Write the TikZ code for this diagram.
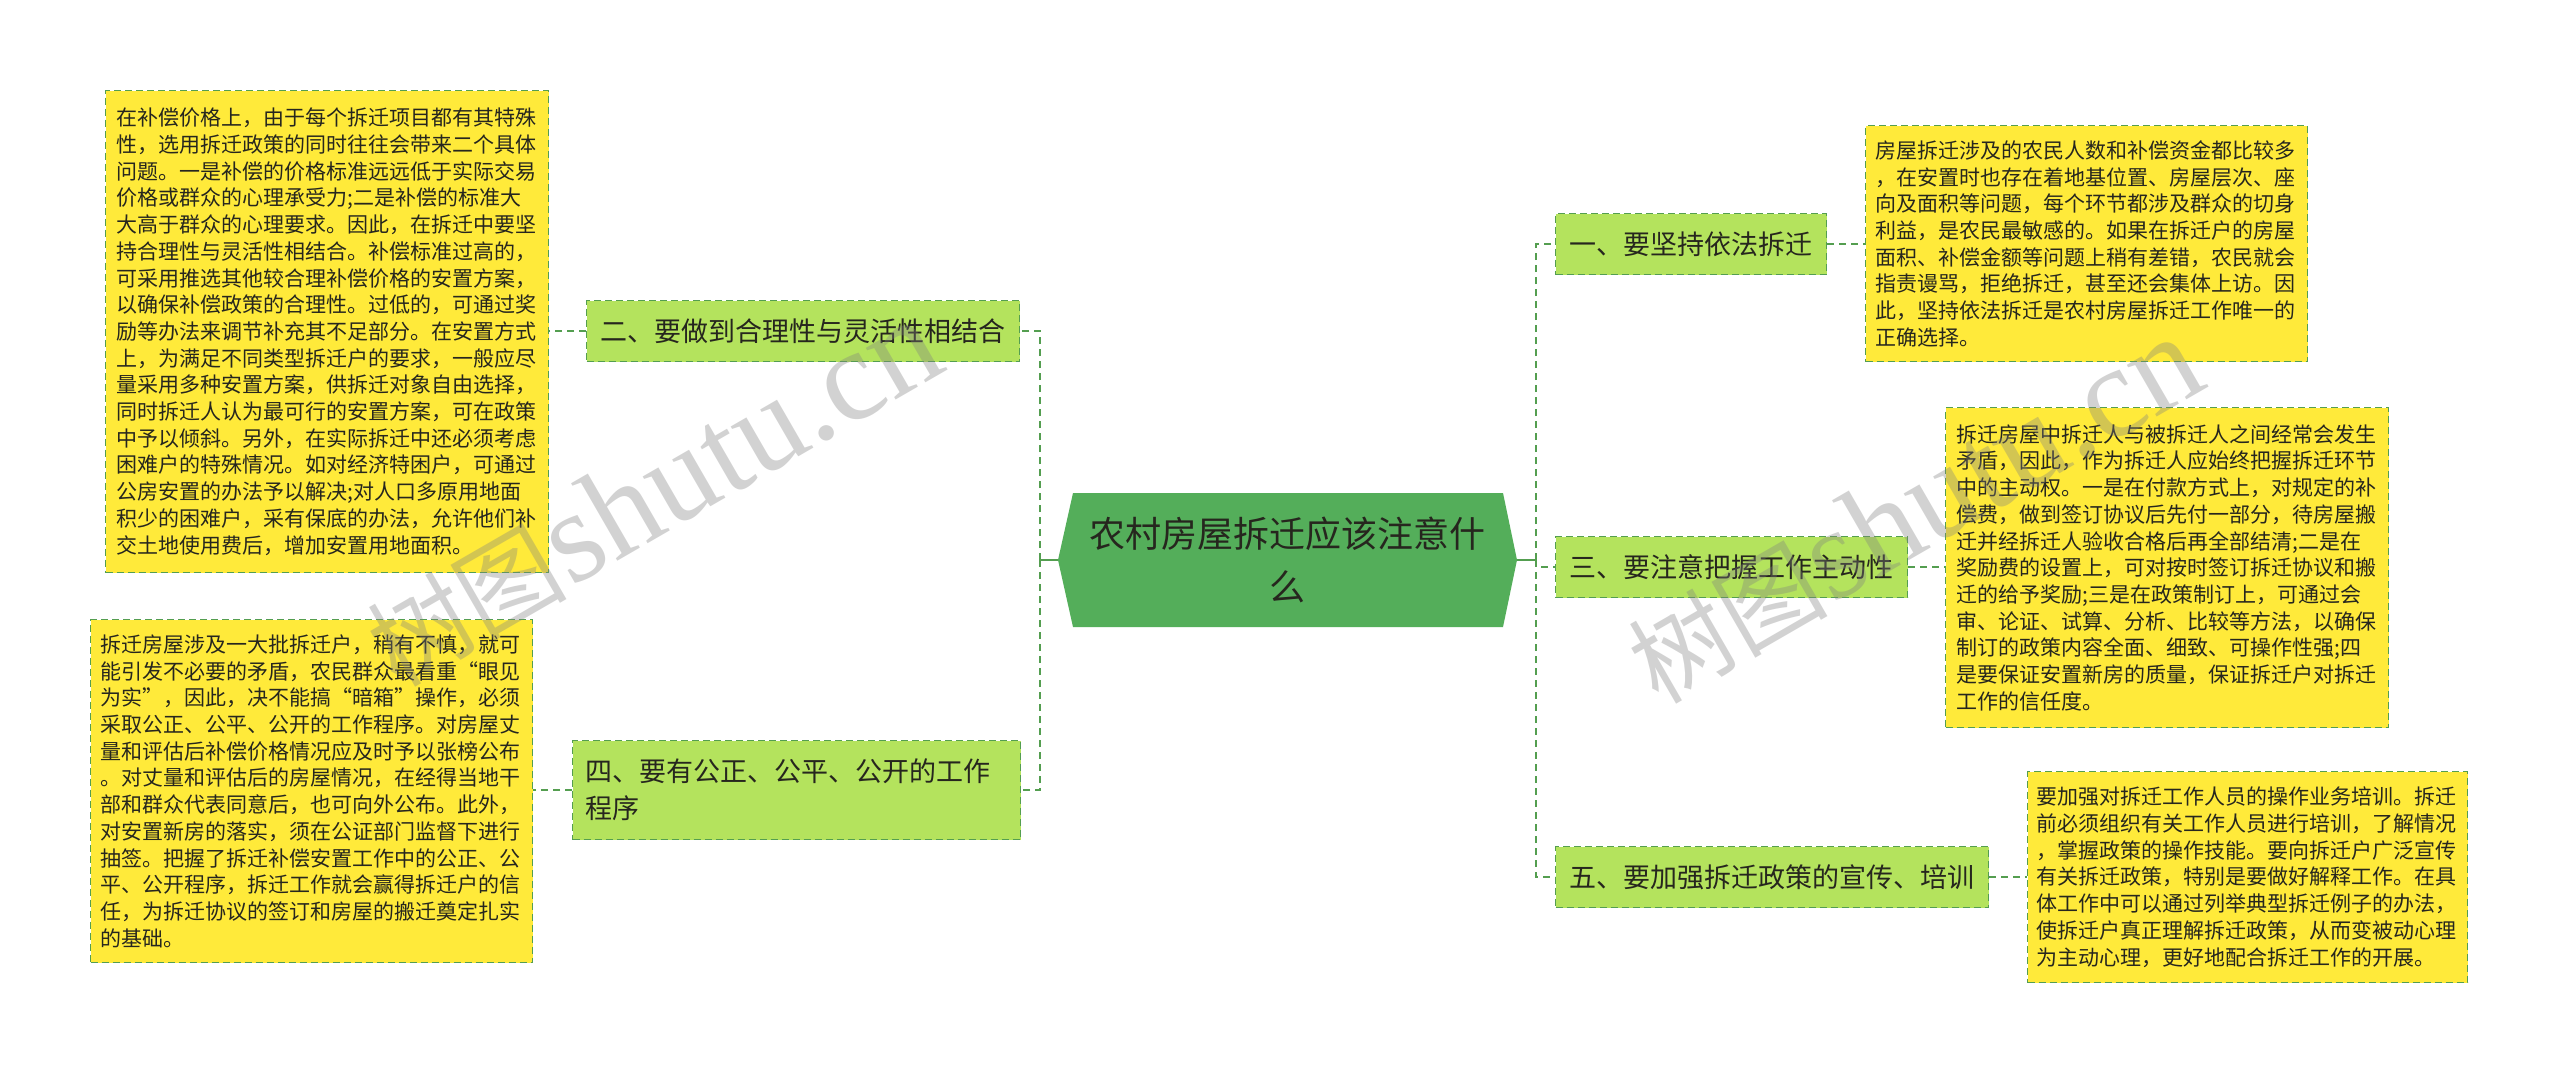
\documentclass[tikz,border=0pt]{standalone}
\usepackage{fontspec}
\newfontfamily\cjk{Noto Sans CJK SC}
\newfontfamily\wmserif{Liberation Serif}
\usetikzlibrary{calc}
\definecolor{leafyellow}{RGB}{255,234,58}
\definecolor{branchgreen}{RGB}{180,227,93}
\definecolor{centergreen}{RGB}{84,174,90}
\definecolor{linegreen}{RGB}{84,158,80}
\definecolor{txt}{RGB}{38,38,30}
\begin{document}
\begin{tikzpicture}[x=1pt,y=-1pt,
  leaf/.style={draw=linegreen, dash pattern=on 7pt off 4pt, line width=1.4pt,
    fill=leafyellow, text=txt, font=\cjk\fontsize{21}{26.7}\selectfont,
    align=left, text width=422pt, inner xsep=0pt, inner ysep=0pt, anchor=north west},
  branch/.style={draw=linegreen, dash pattern=on 7pt off 4pt, line width=1.4pt,
    fill=branchgreen, text=txt, font=\cjk\fontsize{27}{37}\selectfont,
    inner xsep=14pt, inner ysep=0pt, minimum height=61pt, anchor=west},
  conn/.style={draw=linegreen, dash pattern=on 7pt off 5pt, line width=2pt},
  stub/.style={draw=linegreen, line width=2pt},
  wm/.style={text=gray, opacity=0.35, inner sep=0pt}
]
\fill[white] (0,0) rectangle (2560,1073);
\useasboundingbox (0,0) rectangle (2560,1073);

% central node
\fill[centergreen] (1058,560) -- (1073,493) -- (1503,493) -- (1517,560) -- (1503,627) -- (1073,627) -- cycle;
\node[text=txt, font=\cjk\fontsize{36}{53}\selectfont, align=center, minimum width=459pt, minimum height=134pt, inner sep=0pt] (c) at (1287.5,560) {农村房屋拆迁应该注意什\\么};

% branch nodes
\node[branch] (b2) at (586,331) {二、要做到合理性与灵活性相结合};
\node[branch, align=left, text width=422pt, inner xsep=13pt, minimum height=99pt] (b4) at (572,790) {四、要有公正、公平、公开的工作\\程序};
\node[branch] (b1) at (1555,244) {一、要坚持依法拆迁};
\node[branch] (b3) at (1555,567) {三、要注意把握工作主动性};
\node[branch] (b5) at (1555,877) {五、要加强拆迁政策的宣传、培训};

% leaf nodes
\node[leaf, minimum width=443pt, minimum height=482pt] (l2) at (105,90) {在补偿价格上，由于每个拆迁项目都有其特殊\\性，选用拆迁政策的同时往往会带来二个具体\\问题。一是补偿的价格标准远远低于实际交易\\价格或群众的心理承受力;二是补偿的标准大\\大高于群众的心理要求。因此，在拆迁中要坚\\持合理性与灵活性相结合。补偿标准过高的，\\可采用推选其他较合理补偿价格的安置方案，\\以确保补偿政策的合理性。过低的，可通过奖\\励等办法来调节补充其不足部分。在安置方式\\上，为满足不同类型拆迁户的要求，一般应尽\\量采用多种安置方案，供拆迁对象自由选择，\\同时拆迁人认为最可行的安置方案，可在政策\\中予以倾斜。另外，在实际拆迁中还必须考虑\\困难户的特殊情况。如对经济特困户，可通过\\公房安置的办法予以解决;对人口多原用地面\\积少的困难户，采有保底的办法，允许他们补\\交土地使用费后，增加安置用地面积。};
\node[leaf, minimum width=442pt, minimum height=343pt] (l4) at (90,619) {拆迁房屋涉及一大批拆迁户，稍有不慎，就可\\能引发不必要的矛盾，农民群众最看重“眼见\\为实”，因此，决不能搞“暗箱”操作，必须\\采取公正、公平、公开的工作程序。对房屋丈\\量和评估后补偿价格情况应及时予以张榜公布\\。对丈量和评估后的房屋情况，在经得当地干\\部和群众代表同意后，也可向外公布。此外，\\对安置新房的落实，须在公证部门监督下进行\\抽签。把握了拆迁补偿安置工作中的公正、公\\平、公开程序，拆迁工作就会赢得拆迁户的信\\任，为拆迁协议的签订和房屋的搬迁奠定扎实\\的基础。};
\node[leaf, minimum width=442pt, minimum height=236pt] (l1) at (1865,125) {房屋拆迁涉及的农民人数和补偿资金都比较多\\，在安置时也存在着地基位置、房屋层次、座\\向及面积等问题，每个环节都涉及群众的切身\\利益，是农民最敏感的。如果在拆迁户的房屋\\面积、补偿金额等问题上稍有差错，农民就会\\指责谩骂，拒绝拆迁，甚至还会集体上访。因\\此，坚持依法拆迁是农村房屋拆迁工作唯一的\\正确选择。};
\node[leaf, minimum width=443pt, minimum height=320pt] (l3) at (1945,407) {拆迁房屋中拆迁人与被拆迁人之间经常会发生\\矛盾，因此，作为拆迁人应始终把握拆迁环节\\中的主动权。一是在付款方式上，对规定的补\\偿费，做到签订协议后先付一部分，待房屋搬\\迁并经拆迁人验收合格后再全部结清;二是在\\奖励费的设置上，可对按时签订拆迁协议和搬\\迁的给予奖励;三是在政策制订上，可通过会\\审、论证、试算、分析、比较等方法，以确保\\制订的政策内容全面、细致、可操作性强;四\\是要保证安置新房的质量，保证拆迁户对拆迁\\工作的信任度。};
\node[leaf, minimum width=440pt, minimum height=211pt] (l5) at (2027,771) {要加强对拆迁工作人员的操作业务培训。拆迁\\前必须组织有关工作人员进行培训，了解情况\\，掌握政策的操作技能。要向拆迁户广泛宣传\\有关拆迁政策，特别是要做好解释工作。在具\\体工作中可以通过列举典型拆迁例子的办法，\\使拆迁户真正理解拆迁政策，从而变被动心理\\为主动心理，更好地配合拆迁工作的开展。};

% connectors
\coordinate (lj) at (1040,560);
\coordinate (rj) at (1536,560);
\draw[stub] (c.west) -- (lj);
\draw[stub] (c.east) -- (rj);
\draw[conn] (lj) |- (b2.east);
\draw[conn] (lj) |- (b4.east);
\draw[conn] (rj) |- (b1.west);
\draw[conn] (rj) |- (b3.west);
\draw[conn] (rj) |- (b5.west);
\draw[conn] (b2.west) -- (b2.west -| l2.east);
\draw[conn] (b4.west) -- (b4.west -| l4.east);
\draw[conn] (b1.east) -- (b1.east -| l1.west);
\draw[conn] (b3.east) -- (b3.east -| l3.west);
\draw[conn] (b5.east) -- (b5.east -| l5.west);

% watermarks
\node[wm, rotate=30] (wm1) at (653,493) {{\cjk\fontsize{100}{100}\selectfont 树图}\,{\wmserif\fontsize{130}{130}\selectfont shutu.cn}};
\node[wm, rotate=30] (wm2) at (1914,510) {{\cjk\fontsize{100}{100}\selectfont 树图}\,{\wmserif\fontsize{130}{130}\selectfont shutu.cn}};
\end{tikzpicture}
\end{document}
